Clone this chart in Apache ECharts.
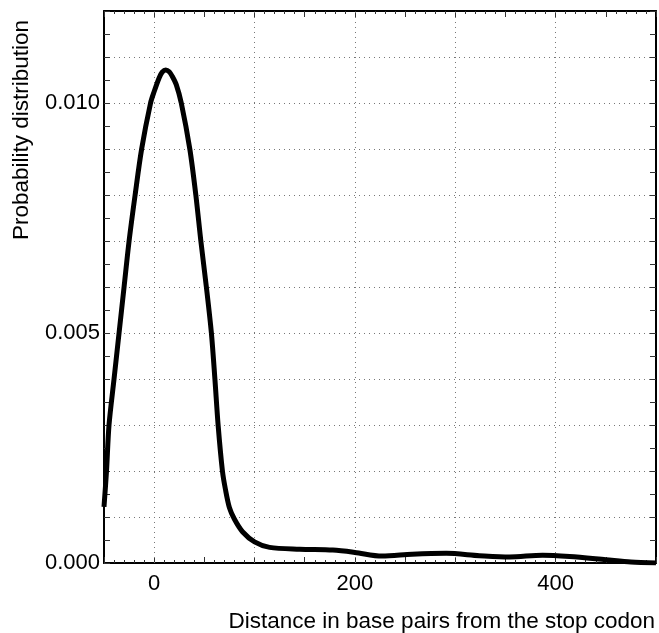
<!DOCTYPE html>
<html>
<head>
<meta charset="utf-8">
<script src="https://cdn.jsdelivr.net/npm/echarts@6/dist/echarts.min.js"></script>
<style>
  html, body { margin: 0; padding: 0; background: #fff; }
  #chart { width: 659px; height: 633px; }
</style>
</head>
<body>
<div id="chart"></div>
<script>
// distance from stop codon (bp) and the probability density
var distance = [-50, -47.5, -45, -40, -35, -30, -25, -19, -12.5, -3.6, 0, 5, 8, 11.5, 15, 18, 22, 27, 35.5, 41.5, 46.5, 52, 57, 60.5, 63.7, 68, 71, 75, 80, 88, 100, 115, 145, 178, 200, 227, 257, 291, 324, 354, 387, 414, 450, 475, 500];
var probability = [0.00122, 0.0020, 0.0030, 0.0040, 0.0050, 0.0060, 0.0070, 0.0080, 0.0090, 0.0100, 0.01025, 0.01055, 0.01067, 0.01072, 0.01068, 0.01058, 0.0104, 0.0100, 0.0090, 0.0080, 0.0070, 0.0060, 0.0050, 0.0040, 0.0030, 0.0020, 0.0016, 0.0012, 0.00095, 0.00068, 0.00046, 0.00034, 0.00030, 0.00028, 0.00023, 0.00015, 0.00019, 0.00021, 0.00016, 0.00013, 0.00017, 0.00014, 0.00007, 0.00002, 0.0];

var xTickLabels = [0, 200, 400];
var yTickLabels = [0, 0.005, 0.010];
var xGridLines = [0, 100, 200, 300, 400];

var font = 'Liberation Sans, Arial, Helvetica, sans-serif';

var points = distance.map(function (d, i) { return [d, probability[i]]; });

function xAxisCfg(pos, labels) {
  return {
    type: 'value', position: pos, min: -50, max: 500, interval: 50,
    axisLine: { show: true, onZero: false, lineStyle: { color: '#000', width: 2 } },
    axisTick: { show: true, inside: true, length: 6, lineStyle: { color: '#333', width: 1 } },
    minorTick: { show: true, splitNumber: 5, length: 3, lineStyle: { color: '#333', width: 1 } },
    axisLabel: {
      show: labels, margin: 10, color: '#000', fontSize: 22, fontFamily: font,
      formatter: function (v) { return xTickLabels.indexOf(v) >= 0 ? String(v) : ''; }
    },
    splitLine: { show: false }
  };
}

function yAxisCfg(pos, labels) {
  return {
    type: 'value', position: pos, min: 0, max: 0.012, interval: 0.001,
    axisLine: { show: true, onZero: false, lineStyle: { color: '#000', width: 2 } },
    axisTick: { show: true, inside: true, length: 6, lineStyle: { color: '#333', width: 1 } },
    minorTick: { show: true, splitNumber: 2, length: 6, lineStyle: { color: '#333', width: 1 } },
    axisLabel: {
      show: labels, margin: 4, color: '#000', fontSize: 22, fontFamily: font,
      formatter: function (v) {
        for (var i = 0; i < yTickLabels.length; i++) {
          if (Math.abs(v - yTickLabels[i]) < 1e-9) return yTickLabels[i].toFixed(3);
        }
        return '';
      }
    },
    splitLine: { show: labels, lineStyle: { color: '#777', width: 1, type: [1, 4] } }
  };
}

var chart = echarts.init(document.getElementById('chart'));
chart.setOption({
  animation: false,
  backgroundColor: '#fff',
  grid: { left: 104, right: 3, top: 11, bottom: 70 },
  xAxis: [xAxisCfg('bottom', true), xAxisCfg('top', false)],
  yAxis: [yAxisCfg('left', true), yAxisCfg('right', false)],
  graphic: [
    {
      type: 'text', x: 655, y: 622,
      style: { text: 'Distance in base pairs from the stop codon', font: '22.5px ' + font, fill: '#000', textAlign: 'right', textVerticalAlign: 'middle' }
    },
    {
      type: 'text', x: 22, y: 130, rotation: Math.PI / 2,
      style: { text: 'Probability distribution', font: '22.5px ' + font, fill: '#000', textAlign: 'center', textVerticalAlign: 'middle' }
    }
  ],
  series: [
    {
      // vertical dotted grid lines every 100 bp
      type: 'line', data: [], xAxisIndex: 0, yAxisIndex: 0, silent: true,
      markLine: {
        silent: true, symbol: ['none', 'none'], label: { show: false },
        lineStyle: { color: '#777', width: 1, type: [1, 4] },
        data: xGridLines.map(function (x) { return { xAxis: x }; })
      }
    },
    {
      type: 'line', data: points, xAxisIndex: 0, yAxisIndex: 0,
      showSymbol: false, smooth: 0.3,
      lineStyle: { color: '#000', width: 5 }, z: 5
    }
  ]
});
</script>
</body>
</html>
